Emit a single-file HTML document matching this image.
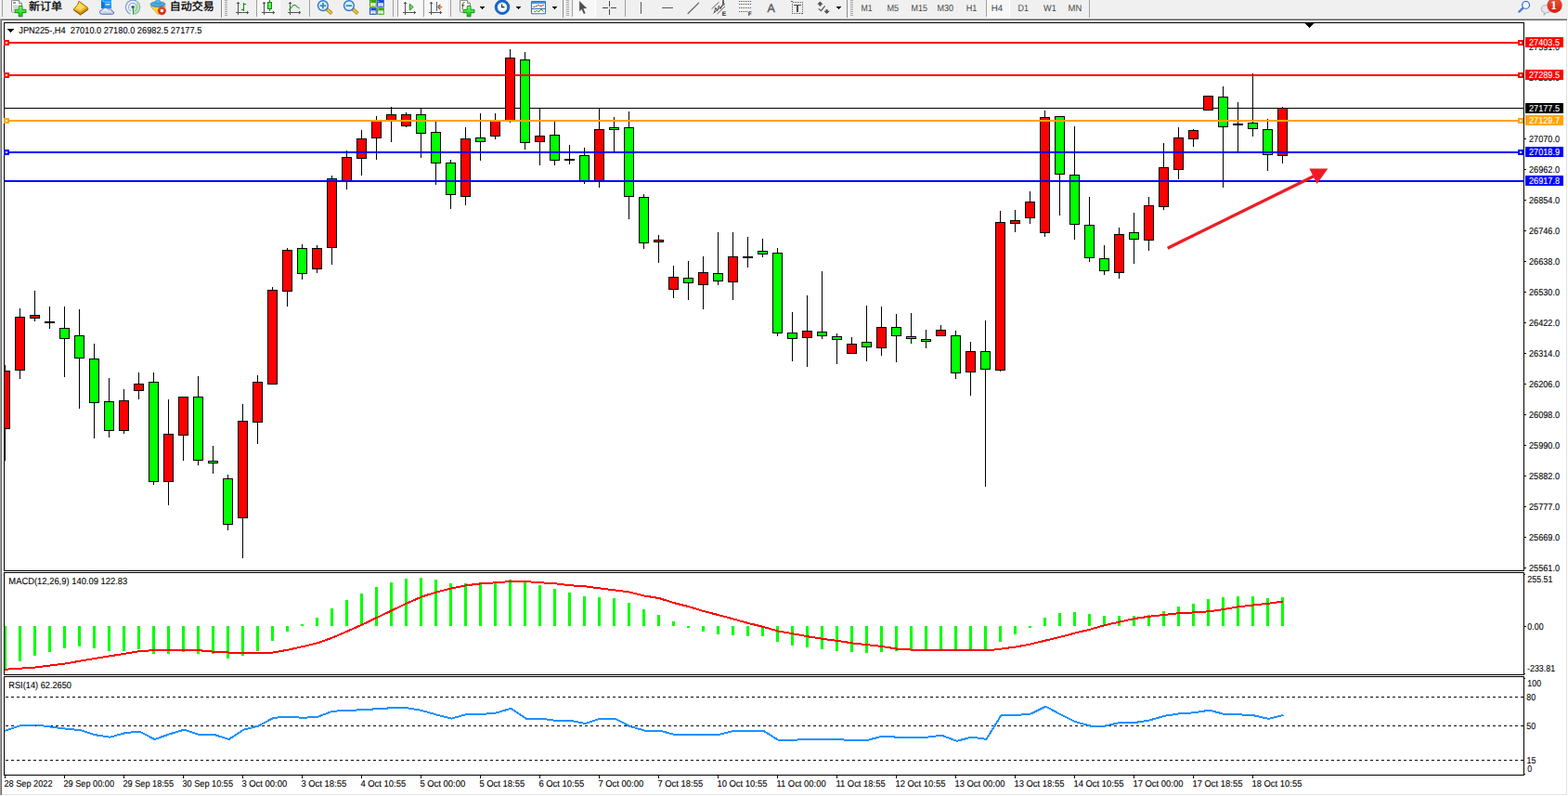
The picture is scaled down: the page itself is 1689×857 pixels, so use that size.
<!DOCTYPE html>
<html><head><meta charset="utf-8"><title>JPN225-,H4</title>
<style>html,body{margin:0;padding:0;background:#fff;overflow:hidden}body{width:1689px;height:857px;position:relative}svg{display:block;position:absolute;left:0;top:0}text{font-family:"Liberation Sans",sans-serif;text-rendering:geometricPrecision}</style>
</head><body>
<svg width="1689" height="857" viewBox="0 0 1689 857">
<g shape-rendering="crispEdges">
<rect x="0" y="0" width="1689" height="857" fill="#fff" />
<rect x="0" y="0" width="1689" height="19" fill="#f0f0f0" />
<rect x="0" y="19" width="1689" height="1" fill="#f5f5f5" />
<rect x="0" y="20" width="1688" height="1" fill="#a0a0a0" />
<rect x="0" y="21" width="1688" height="1" fill="#696969" />
<rect x="0" y="20" width="1" height="836" fill="#a0a0a0" />
<rect x="1" y="21" width="1" height="835" fill="#696969" />
<rect x="1687" y="22" width="1" height="834" fill="#e3e3e3" />
<rect x="2" y="855" width="1686" height="1" fill="#e3e3e3" />
<rect x="4" y="24" width="1638" height="1" fill="#000" />
<rect x="4" y="24" width="1" height="591" fill="#000" />
<rect x="1641" y="24" width="1" height="591" fill="#000" />
<rect x="4" y="614" width="1638" height="1" fill="#000" />
<rect x="4" y="616" width="1638" height="1" fill="#000" />
<rect x="4" y="616" width="1" height="111" fill="#000" />
<rect x="1641" y="616" width="1" height="111" fill="#000" />
<rect x="4" y="726" width="1638" height="1" fill="#000" />
<rect x="4" y="728" width="1638" height="1" fill="#000" />
<rect x="4" y="728" width="1" height="107" fill="#000" />
<rect x="1641" y="728" width="1" height="107" fill="#000" />
<rect x="4" y="834" width="1638" height="1" fill="#000" />
<rect x="5" y="116" width="1636" height="1" fill="#000" />
<rect x="5" y="393" width="1" height="103" fill="#000" />
<rect x="5" y="399" width="6" height="63" fill="#000" />
<rect x="5" y="400" width="5" height="61" fill="#ff0000" />
<rect x="21" y="332" width="1" height="76" fill="#000" />
<rect x="16" y="341" width="11" height="58" fill="#000" />
<rect x="17" y="342" width="9" height="56" fill="#ff0000" />
<rect x="37" y="313" width="1" height="33" fill="#000" />
<rect x="32" y="339" width="11" height="4" fill="#000" />
<rect x="33" y="340" width="9" height="2" fill="#ff0000" />
<rect x="53" y="330" width="1" height="24" fill="#000" />
<rect x="48" y="346" width="11" height="2" fill="#000" />
<rect x="69" y="330" width="1" height="76" fill="#000" />
<rect x="64" y="353" width="11" height="12" fill="#000" />
<rect x="65" y="354" width="9" height="10" fill="#00ff00" />
<rect x="85" y="333" width="1" height="107" fill="#000" />
<rect x="80" y="361" width="11" height="25" fill="#000" />
<rect x="81" y="362" width="9" height="23" fill="#00ff00" />
<rect x="101" y="370" width="1" height="102" fill="#000" />
<rect x="96" y="386" width="11" height="48" fill="#000" />
<rect x="97" y="387" width="9" height="46" fill="#00ff00" />
<rect x="117" y="407" width="1" height="64" fill="#000" />
<rect x="112" y="432" width="11" height="32" fill="#000" />
<rect x="113" y="433" width="9" height="30" fill="#00ff00" />
<rect x="133" y="419" width="1" height="48" fill="#000" />
<rect x="128" y="431" width="11" height="33" fill="#000" />
<rect x="129" y="432" width="9" height="31" fill="#ff0000" />
<rect x="149" y="401" width="1" height="29" fill="#000" />
<rect x="144" y="413" width="11" height="8" fill="#000" />
<rect x="145" y="414" width="9" height="6" fill="#ff0000" />
<rect x="165" y="401" width="1" height="121" fill="#000" />
<rect x="160" y="411" width="11" height="108" fill="#000" />
<rect x="161" y="412" width="9" height="106" fill="#00ff00" />
<rect x="181" y="430" width="1" height="114" fill="#000" />
<rect x="176" y="467" width="11" height="52" fill="#000" />
<rect x="177" y="468" width="9" height="50" fill="#ff0000" />
<rect x="197" y="427" width="1" height="69" fill="#000" />
<rect x="192" y="427" width="11" height="42" fill="#000" />
<rect x="193" y="428" width="9" height="40" fill="#ff0000" />
<rect x="213" y="405" width="1" height="96" fill="#000" />
<rect x="208" y="427" width="11" height="69" fill="#000" />
<rect x="209" y="428" width="9" height="67" fill="#00ff00" />
<rect x="229" y="480" width="1" height="30" fill="#000" />
<rect x="224" y="496" width="11" height="3" fill="#000" />
<rect x="225" y="497" width="9" height="1" fill="#00ff00" />
<rect x="245" y="511" width="1" height="60" fill="#000" />
<rect x="240" y="515" width="11" height="50" fill="#000" />
<rect x="241" y="516" width="9" height="48" fill="#00ff00" />
<rect x="261" y="435" width="1" height="166" fill="#000" />
<rect x="256" y="453" width="11" height="105" fill="#000" />
<rect x="257" y="454" width="9" height="103" fill="#ff0000" />
<rect x="277" y="404" width="1" height="74" fill="#000" />
<rect x="272" y="411" width="11" height="44" fill="#000" />
<rect x="273" y="412" width="9" height="42" fill="#ff0000" />
<rect x="293" y="309" width="1" height="105" fill="#000" />
<rect x="288" y="312" width="11" height="102" fill="#000" />
<rect x="289" y="313" width="9" height="100" fill="#ff0000" />
<rect x="309" y="267" width="1" height="63" fill="#000" />
<rect x="304" y="269" width="11" height="45" fill="#000" />
<rect x="305" y="270" width="9" height="43" fill="#ff0000" />
<rect x="325" y="263" width="1" height="38" fill="#000" />
<rect x="320" y="267" width="11" height="28" fill="#000" />
<rect x="321" y="268" width="9" height="26" fill="#00ff00" />
<rect x="341" y="264" width="1" height="30" fill="#000" />
<rect x="336" y="267" width="11" height="23" fill="#000" />
<rect x="337" y="268" width="9" height="21" fill="#ff0000" />
<rect x="357" y="189" width="1" height="96" fill="#000" />
<rect x="352" y="192" width="11" height="75" fill="#000" />
<rect x="353" y="193" width="9" height="73" fill="#ff0000" />
<rect x="373" y="162" width="1" height="42" fill="#000" />
<rect x="368" y="169" width="11" height="26" fill="#000" />
<rect x="369" y="170" width="9" height="24" fill="#ff0000" />
<rect x="389" y="140" width="1" height="49" fill="#000" />
<rect x="384" y="149" width="11" height="22" fill="#000" />
<rect x="385" y="150" width="9" height="20" fill="#ff0000" />
<rect x="405" y="125" width="1" height="47" fill="#000" />
<rect x="400" y="129" width="11" height="20" fill="#000" />
<rect x="401" y="130" width="9" height="18" fill="#ff0000" />
<rect x="421" y="115" width="1" height="38" fill="#000" />
<rect x="416" y="123" width="11" height="7" fill="#000" />
<rect x="417" y="124" width="9" height="5" fill="#ff0000" />
<rect x="437" y="121" width="1" height="16" fill="#000" />
<rect x="432" y="123" width="11" height="13" fill="#000" />
<rect x="433" y="124" width="9" height="11" fill="#ff0000" />
<rect x="453" y="116" width="1" height="54" fill="#000" />
<rect x="448" y="123" width="11" height="21" fill="#000" />
<rect x="449" y="124" width="9" height="19" fill="#00ff00" />
<rect x="469" y="131" width="1" height="68" fill="#000" />
<rect x="464" y="142" width="11" height="34" fill="#000" />
<rect x="465" y="143" width="9" height="32" fill="#00ff00" />
<rect x="485" y="172" width="1" height="53" fill="#000" />
<rect x="480" y="175" width="11" height="35" fill="#000" />
<rect x="481" y="176" width="9" height="33" fill="#00ff00" />
<rect x="501" y="137" width="1" height="84" fill="#000" />
<rect x="496" y="149" width="11" height="63" fill="#000" />
<rect x="497" y="150" width="9" height="61" fill="#ff0000" />
<rect x="517" y="122" width="1" height="51" fill="#000" />
<rect x="512" y="148" width="11" height="5" fill="#000" />
<rect x="513" y="149" width="9" height="3" fill="#00ff00" />
<rect x="533" y="122" width="1" height="28" fill="#000" />
<rect x="528" y="129" width="11" height="18" fill="#000" />
<rect x="529" y="130" width="9" height="16" fill="#ff0000" />
<rect x="549" y="53" width="1" height="79" fill="#000" />
<rect x="544" y="62" width="11" height="68" fill="#000" />
<rect x="545" y="63" width="9" height="66" fill="#ff0000" />
<rect x="565" y="56" width="1" height="105" fill="#000" />
<rect x="560" y="64" width="11" height="90" fill="#000" />
<rect x="561" y="65" width="9" height="88" fill="#00ff00" />
<rect x="581" y="116" width="1" height="62" fill="#000" />
<rect x="576" y="146" width="11" height="7" fill="#000" />
<rect x="577" y="147" width="9" height="5" fill="#ff0000" />
<rect x="597" y="131" width="1" height="47" fill="#000" />
<rect x="592" y="145" width="11" height="28" fill="#000" />
<rect x="593" y="146" width="9" height="26" fill="#00ff00" />
<rect x="613" y="156" width="1" height="21" fill="#000" />
<rect x="608" y="171" width="11" height="2" fill="#000" />
<rect x="629" y="159" width="1" height="39" fill="#000" />
<rect x="624" y="167" width="11" height="29" fill="#000" />
<rect x="625" y="168" width="9" height="27" fill="#00ff00" />
<rect x="645" y="116" width="1" height="86" fill="#000" />
<rect x="640" y="139" width="11" height="57" fill="#000" />
<rect x="641" y="140" width="9" height="55" fill="#ff0000" />
<rect x="661" y="126" width="1" height="37" fill="#000" />
<rect x="656" y="137" width="11" height="3" fill="#000" />
<rect x="657" y="138" width="9" height="1" fill="#00ff00" />
<rect x="677" y="120" width="1" height="116" fill="#000" />
<rect x="672" y="137" width="11" height="75" fill="#000" />
<rect x="673" y="138" width="9" height="73" fill="#00ff00" />
<rect x="693" y="209" width="1" height="59" fill="#000" />
<rect x="688" y="212" width="11" height="50" fill="#000" />
<rect x="689" y="213" width="9" height="48" fill="#00ff00" />
<rect x="709" y="253" width="1" height="30" fill="#000" />
<rect x="704" y="258" width="11" height="3" fill="#000" />
<rect x="705" y="259" width="9" height="1" fill="#ff0000" />
<rect x="725" y="286" width="1" height="35" fill="#000" />
<rect x="720" y="298" width="11" height="14" fill="#000" />
<rect x="721" y="299" width="9" height="12" fill="#ff0000" />
<rect x="741" y="281" width="1" height="42" fill="#000" />
<rect x="736" y="299" width="11" height="6" fill="#000" />
<rect x="737" y="300" width="9" height="4" fill="#00ff00" />
<rect x="757" y="276" width="1" height="57" fill="#000" />
<rect x="752" y="293" width="11" height="14" fill="#000" />
<rect x="753" y="294" width="9" height="12" fill="#ff0000" />
<rect x="773" y="250" width="1" height="57" fill="#000" />
<rect x="768" y="294" width="11" height="9" fill="#000" />
<rect x="769" y="295" width="9" height="7" fill="#00ff00" />
<rect x="789" y="250" width="1" height="73" fill="#000" />
<rect x="784" y="276" width="11" height="28" fill="#000" />
<rect x="785" y="277" width="9" height="26" fill="#ff0000" />
<rect x="805" y="255" width="1" height="33" fill="#000" />
<rect x="800" y="276" width="11" height="2" fill="#000" />
<rect x="821" y="257" width="1" height="20" fill="#000" />
<rect x="816" y="270" width="11" height="4" fill="#000" />
<rect x="817" y="271" width="9" height="2" fill="#00ff00" />
<rect x="837" y="267" width="1" height="95" fill="#000" />
<rect x="832" y="272" width="11" height="87" fill="#000" />
<rect x="833" y="273" width="9" height="85" fill="#00ff00" />
<rect x="853" y="336" width="1" height="53" fill="#000" />
<rect x="848" y="358" width="11" height="7" fill="#000" />
<rect x="849" y="359" width="9" height="5" fill="#00ff00" />
<rect x="869" y="318" width="1" height="77" fill="#000" />
<rect x="864" y="356" width="11" height="8" fill="#000" />
<rect x="865" y="357" width="9" height="6" fill="#ff0000" />
<rect x="885" y="292" width="1" height="73" fill="#000" />
<rect x="880" y="357" width="11" height="5" fill="#000" />
<rect x="881" y="358" width="9" height="3" fill="#00ff00" />
<rect x="901" y="359" width="1" height="33" fill="#000" />
<rect x="896" y="362" width="11" height="4" fill="#000" />
<rect x="897" y="363" width="9" height="2" fill="#00ff00" />
<rect x="917" y="363" width="1" height="18" fill="#000" />
<rect x="912" y="370" width="11" height="11" fill="#000" />
<rect x="913" y="371" width="9" height="9" fill="#ff0000" />
<rect x="933" y="329" width="1" height="60" fill="#000" />
<rect x="928" y="368" width="11" height="6" fill="#000" />
<rect x="929" y="369" width="9" height="4" fill="#00ff00" />
<rect x="949" y="330" width="1" height="53" fill="#000" />
<rect x="944" y="352" width="11" height="23" fill="#000" />
<rect x="945" y="353" width="9" height="21" fill="#ff0000" />
<rect x="965" y="338" width="1" height="52" fill="#000" />
<rect x="960" y="352" width="11" height="10" fill="#000" />
<rect x="961" y="353" width="9" height="8" fill="#00ff00" />
<rect x="981" y="337" width="1" height="33" fill="#000" />
<rect x="976" y="362" width="11" height="3" fill="#000" />
<rect x="977" y="363" width="9" height="1" fill="#00ff00" />
<rect x="997" y="355" width="1" height="20" fill="#000" />
<rect x="992" y="365" width="11" height="3" fill="#000" />
<rect x="993" y="366" width="9" height="1" fill="#00ff00" />
<rect x="1013" y="350" width="1" height="12" fill="#000" />
<rect x="1008" y="355" width="11" height="7" fill="#000" />
<rect x="1009" y="356" width="9" height="5" fill="#ff0000" />
<rect x="1029" y="356" width="1" height="52" fill="#000" />
<rect x="1024" y="361" width="11" height="41" fill="#000" />
<rect x="1025" y="362" width="9" height="39" fill="#00ff00" />
<rect x="1045" y="368" width="1" height="58" fill="#000" />
<rect x="1040" y="378" width="11" height="23" fill="#000" />
<rect x="1041" y="379" width="9" height="21" fill="#ff0000" />
<rect x="1061" y="345" width="1" height="179" fill="#000" />
<rect x="1056" y="378" width="11" height="20" fill="#000" />
<rect x="1057" y="379" width="9" height="18" fill="#00ff00" />
<rect x="1077" y="227" width="1" height="173" fill="#000" />
<rect x="1072" y="239" width="11" height="160" fill="#000" />
<rect x="1073" y="240" width="9" height="158" fill="#ff0000" />
<rect x="1093" y="226" width="1" height="24" fill="#000" />
<rect x="1088" y="237" width="11" height="4" fill="#000" />
<rect x="1089" y="238" width="9" height="2" fill="#ff0000" />
<rect x="1109" y="206" width="1" height="35" fill="#000" />
<rect x="1104" y="217" width="11" height="18" fill="#000" />
<rect x="1105" y="218" width="9" height="16" fill="#ff0000" />
<rect x="1125" y="119" width="1" height="136" fill="#000" />
<rect x="1120" y="126" width="11" height="125" fill="#000" />
<rect x="1121" y="127" width="9" height="123" fill="#ff0000" />
<rect x="1141" y="125" width="1" height="107" fill="#000" />
<rect x="1136" y="125" width="11" height="63" fill="#000" />
<rect x="1137" y="126" width="9" height="61" fill="#00ff00" />
<rect x="1157" y="136" width="1" height="122" fill="#000" />
<rect x="1152" y="188" width="11" height="54" fill="#000" />
<rect x="1153" y="189" width="9" height="52" fill="#00ff00" />
<rect x="1173" y="212" width="1" height="70" fill="#000" />
<rect x="1168" y="242" width="11" height="36" fill="#000" />
<rect x="1169" y="243" width="9" height="34" fill="#00ff00" />
<rect x="1189" y="264" width="1" height="32" fill="#000" />
<rect x="1184" y="278" width="11" height="14" fill="#000" />
<rect x="1185" y="279" width="9" height="12" fill="#00ff00" />
<rect x="1205" y="245" width="1" height="55" fill="#000" />
<rect x="1200" y="252" width="11" height="42" fill="#000" />
<rect x="1201" y="253" width="9" height="40" fill="#ff0000" />
<rect x="1221" y="229" width="1" height="55" fill="#000" />
<rect x="1216" y="250" width="11" height="8" fill="#000" />
<rect x="1217" y="251" width="9" height="6" fill="#00ff00" />
<rect x="1237" y="212" width="1" height="58" fill="#000" />
<rect x="1232" y="221" width="11" height="38" fill="#000" />
<rect x="1233" y="222" width="9" height="36" fill="#ff0000" />
<rect x="1253" y="154" width="1" height="72" fill="#000" />
<rect x="1248" y="180" width="11" height="43" fill="#000" />
<rect x="1249" y="181" width="9" height="41" fill="#ff0000" />
<rect x="1269" y="137" width="1" height="56" fill="#000" />
<rect x="1264" y="148" width="11" height="35" fill="#000" />
<rect x="1265" y="149" width="9" height="33" fill="#ff0000" />
<rect x="1285" y="139" width="1" height="19" fill="#000" />
<rect x="1280" y="140" width="11" height="10" fill="#000" />
<rect x="1281" y="141" width="9" height="8" fill="#ff0000" />
<rect x="1301" y="103" width="1" height="16" fill="#000" />
<rect x="1296" y="103" width="11" height="16" fill="#000" />
<rect x="1297" y="104" width="9" height="14" fill="#ff0000" />
<rect x="1317" y="93" width="1" height="109" fill="#000" />
<rect x="1312" y="104" width="11" height="33" fill="#000" />
<rect x="1313" y="105" width="9" height="31" fill="#00ff00" />
<rect x="1333" y="110" width="1" height="54" fill="#000" />
<rect x="1328" y="133" width="11" height="2" fill="#000" />
<rect x="1349" y="79" width="1" height="68" fill="#000" />
<rect x="1344" y="132" width="11" height="7" fill="#000" />
<rect x="1345" y="133" width="9" height="5" fill="#00ff00" />
<rect x="1365" y="128" width="1" height="56" fill="#000" />
<rect x="1360" y="139" width="11" height="28" fill="#000" />
<rect x="1361" y="140" width="9" height="26" fill="#00ff00" />
<rect x="1381" y="115" width="1" height="61" fill="#000" />
<rect x="1376" y="116" width="11" height="52" fill="#000" />
<rect x="1377" y="117" width="9" height="50" fill="#ff0000" />
<rect x="5" y="45" width="1636" height="2" fill="#ff0000" />
<rect x="5" y="80" width="1636" height="2" fill="#ff0000" />
<rect x="5" y="129" width="1636" height="2" fill="#ffa500" />
<rect x="5" y="163" width="1636" height="2" fill="#0000ff" />
<rect x="5" y="194" width="1636" height="2" fill="#0000ff" />
<rect x="4" y="43" width="6" height="6" fill="#ff0000" />
<rect x="6" y="45" width="2" height="2" fill="#fff" />
<rect x="1635" y="43" width="6" height="6" fill="#ff0000" />
<rect x="1637" y="45" width="2" height="2" fill="#fff" />
<rect x="4" y="78" width="6" height="6" fill="#ff0000" />
<rect x="6" y="80" width="2" height="2" fill="#fff" />
<rect x="1635" y="78" width="6" height="6" fill="#ff0000" />
<rect x="1637" y="80" width="2" height="2" fill="#fff" />
<rect x="4" y="127" width="6" height="6" fill="#ffa500" />
<rect x="6" y="129" width="2" height="2" fill="#fff" />
<rect x="1635" y="127" width="6" height="6" fill="#ffa500" />
<rect x="1637" y="129" width="2" height="2" fill="#fff" />
<rect x="4" y="161" width="6" height="6" fill="#0000ff" />
<rect x="6" y="163" width="2" height="2" fill="#fff" />
<rect x="1635" y="161" width="6" height="6" fill="#0000ff" />
<rect x="1637" y="163" width="2" height="2" fill="#fff" />
<rect x="5" y="674" width="2" height="47" fill="#00ff00" />
<rect x="20" y="674" width="3" height="38" fill="#00ff00" />
<rect x="36" y="674" width="3" height="32" fill="#00ff00" />
<rect x="52" y="674" width="3" height="28" fill="#00ff00" />
<rect x="68" y="674" width="3" height="24" fill="#00ff00" />
<rect x="84" y="674" width="3" height="22" fill="#00ff00" />
<rect x="100" y="674" width="3" height="24" fill="#00ff00" />
<rect x="116" y="674" width="3" height="27" fill="#00ff00" />
<rect x="132" y="674" width="3" height="27" fill="#00ff00" />
<rect x="148" y="674" width="3" height="25" fill="#00ff00" />
<rect x="164" y="674" width="3" height="30" fill="#00ff00" />
<rect x="180" y="674" width="3" height="30" fill="#00ff00" />
<rect x="196" y="674" width="3" height="28" fill="#00ff00" />
<rect x="212" y="674" width="3" height="30" fill="#00ff00" />
<rect x="228" y="674" width="3" height="30" fill="#00ff00" />
<rect x="244" y="674" width="3" height="35" fill="#00ff00" />
<rect x="260" y="674" width="3" height="32" fill="#00ff00" />
<rect x="276" y="674" width="3" height="27" fill="#00ff00" />
<rect x="292" y="674" width="3" height="16" fill="#00ff00" />
<rect x="308" y="674" width="3" height="6" fill="#00ff00" />
<rect x="324" y="672" width="3" height="2" fill="#00ff00" />
<rect x="340" y="665" width="3" height="9" fill="#00ff00" />
<rect x="356" y="655" width="3" height="19" fill="#00ff00" />
<rect x="372" y="646" width="3" height="28" fill="#00ff00" />
<rect x="388" y="639" width="3" height="35" fill="#00ff00" />
<rect x="404" y="632" width="3" height="42" fill="#00ff00" />
<rect x="420" y="627" width="3" height="47" fill="#00ff00" />
<rect x="436" y="623" width="3" height="51" fill="#00ff00" />
<rect x="452" y="622" width="3" height="52" fill="#00ff00" />
<rect x="468" y="624" width="3" height="50" fill="#00ff00" />
<rect x="484" y="628" width="3" height="46" fill="#00ff00" />
<rect x="500" y="628" width="3" height="46" fill="#00ff00" />
<rect x="516" y="628" width="3" height="46" fill="#00ff00" />
<rect x="532" y="627" width="3" height="47" fill="#00ff00" />
<rect x="548" y="624" width="3" height="50" fill="#00ff00" />
<rect x="564" y="627" width="3" height="47" fill="#00ff00" />
<rect x="580" y="630" width="3" height="44" fill="#00ff00" />
<rect x="596" y="634" width="3" height="40" fill="#00ff00" />
<rect x="612" y="638" width="3" height="36" fill="#00ff00" />
<rect x="628" y="642" width="3" height="32" fill="#00ff00" />
<rect x="644" y="643" width="3" height="31" fill="#00ff00" />
<rect x="660" y="644" width="3" height="30" fill="#00ff00" />
<rect x="676" y="649" width="3" height="25" fill="#00ff00" />
<rect x="692" y="656" width="3" height="18" fill="#00ff00" />
<rect x="708" y="662" width="3" height="12" fill="#00ff00" />
<rect x="724" y="669" width="3" height="5" fill="#00ff00" />
<rect x="740" y="674" width="3" height="2" fill="#00ff00" />
<rect x="756" y="674" width="3" height="6" fill="#00ff00" />
<rect x="772" y="674" width="3" height="9" fill="#00ff00" />
<rect x="788" y="674" width="3" height="10" fill="#00ff00" />
<rect x="804" y="674" width="3" height="11" fill="#00ff00" />
<rect x="820" y="674" width="3" height="11" fill="#00ff00" />
<rect x="836" y="674" width="3" height="17" fill="#00ff00" />
<rect x="852" y="674" width="3" height="21" fill="#00ff00" />
<rect x="868" y="674" width="3" height="23" fill="#00ff00" />
<rect x="884" y="674" width="3" height="25" fill="#00ff00" />
<rect x="900" y="674" width="3" height="27" fill="#00ff00" />
<rect x="916" y="674" width="3" height="28" fill="#00ff00" />
<rect x="932" y="674" width="3" height="29" fill="#00ff00" />
<rect x="948" y="674" width="3" height="28" fill="#00ff00" />
<rect x="964" y="674" width="3" height="27" fill="#00ff00" />
<rect x="980" y="674" width="3" height="26" fill="#00ff00" />
<rect x="996" y="674" width="3" height="26" fill="#00ff00" />
<rect x="1012" y="674" width="3" height="26" fill="#00ff00" />
<rect x="1028" y="674" width="3" height="26" fill="#00ff00" />
<rect x="1044" y="674" width="3" height="26" fill="#00ff00" />
<rect x="1060" y="674" width="3" height="26" fill="#00ff00" />
<rect x="1076" y="674" width="3" height="17" fill="#00ff00" />
<rect x="1092" y="674" width="3" height="9" fill="#00ff00" />
<rect x="1108" y="674" width="3" height="2" fill="#00ff00" />
<rect x="1124" y="665" width="3" height="9" fill="#00ff00" />
<rect x="1140" y="660" width="3" height="14" fill="#00ff00" />
<rect x="1156" y="659" width="3" height="15" fill="#00ff00" />
<rect x="1172" y="661" width="3" height="13" fill="#00ff00" />
<rect x="1188" y="663" width="3" height="11" fill="#00ff00" />
<rect x="1204" y="663" width="3" height="11" fill="#00ff00" />
<rect x="1220" y="663" width="3" height="11" fill="#00ff00" />
<rect x="1236" y="662" width="3" height="12" fill="#00ff00" />
<rect x="1252" y="658" width="3" height="16" fill="#00ff00" />
<rect x="1268" y="653" width="3" height="21" fill="#00ff00" />
<rect x="1284" y="650" width="3" height="24" fill="#00ff00" />
<rect x="1300" y="645" width="3" height="29" fill="#00ff00" />
<rect x="1316" y="643" width="3" height="31" fill="#00ff00" />
<rect x="1332" y="642" width="3" height="32" fill="#00ff00" />
<rect x="1348" y="642" width="3" height="32" fill="#00ff00" />
<rect x="1364" y="644" width="3" height="30" fill="#00ff00" />
<rect x="1380" y="643" width="3" height="31" fill="#00ff00" />
<path d="M6 750.5H1641" stroke="#000" stroke-width="1" stroke-dasharray="3 3" fill="none"/>
<path d="M6 781.5H1641" stroke="#000" stroke-width="1" stroke-dasharray="3 3" fill="none"/>
<path d="M6 818.5H1641" stroke="#000" stroke-width="1" stroke-dasharray="3 3" fill="none"/>
<rect x="1642" y="149" width="2" height="1" fill="#000" />
<rect x="1642" y="182" width="2" height="1" fill="#000" />
<rect x="1642" y="215" width="2" height="1" fill="#000" />
<rect x="1642" y="248" width="2" height="1" fill="#000" />
<rect x="1642" y="281" width="2" height="1" fill="#000" />
<rect x="1642" y="314" width="2" height="1" fill="#000" />
<rect x="1642" y="347" width="2" height="1" fill="#000" />
<rect x="1642" y="380" width="2" height="1" fill="#000" />
<rect x="1642" y="413" width="2" height="1" fill="#000" />
<rect x="1642" y="446" width="2" height="1" fill="#000" />
<rect x="1642" y="479" width="2" height="1" fill="#000" />
<rect x="1642" y="512" width="2" height="1" fill="#000" />
<rect x="1642" y="545" width="2" height="1" fill="#000" />
<rect x="1642" y="578" width="2" height="1" fill="#000" />
<rect x="1642" y="611" width="2" height="1" fill="#000" />
<rect x="1642" y="674" width="2" height="1" fill="#000" />
<rect x="5" y="835" width="1" height="3" fill="#000" />
<rect x="69" y="835" width="1" height="3" fill="#000" />
<rect x="133" y="835" width="1" height="3" fill="#000" />
<rect x="197" y="835" width="1" height="3" fill="#000" />
<rect x="261" y="835" width="1" height="3" fill="#000" />
<rect x="325" y="835" width="1" height="3" fill="#000" />
<rect x="389" y="835" width="1" height="3" fill="#000" />
<rect x="453" y="835" width="1" height="3" fill="#000" />
<rect x="517" y="835" width="1" height="3" fill="#000" />
<rect x="581" y="835" width="1" height="3" fill="#000" />
<rect x="645" y="835" width="1" height="3" fill="#000" />
<rect x="709" y="835" width="1" height="3" fill="#000" />
<rect x="773" y="835" width="1" height="3" fill="#000" />
<rect x="837" y="835" width="1" height="3" fill="#000" />
<rect x="901" y="835" width="1" height="3" fill="#000" />
<rect x="965" y="835" width="1" height="3" fill="#000" />
<rect x="1029" y="835" width="1" height="3" fill="#000" />
<rect x="1093" y="835" width="1" height="3" fill="#000" />
<rect x="1157" y="835" width="1" height="3" fill="#000" />
<rect x="1221" y="835" width="1" height="3" fill="#000" />
<rect x="1285" y="835" width="1" height="3" fill="#000" />
<rect x="1349" y="835" width="1" height="3" fill="#000" />
</g>
<polyline points="5,720.8 38.2,718.5 70.2,714.5 102.2,708.9 134.2,703.8 151.2,701.0 166.2,700.2 214.2,700.2 230.2,701.7 246.2,702.5 294.2,702.5 310.2,699.7 326.2,696.1 342.2,692.3 358.2,686.5 374.2,679.6 390.2,672.5 406.2,664.8 422.2,657.2 438.2,649.5 454.2,642.5 470.2,637.5 486.2,633.4 502.2,630.3 518.2,628.3 534.2,627.3 550.2,626.0 566.2,626.0 582.2,627.3 598.2,628.3 614.2,630.3 630.2,631.3 646.2,633.4 662.2,635.4 678.2,637.5 694.2,641.5 710.2,644.1 726.2,649.2 742.2,653.2 758.2,658.1 774.2,662.2 790.2,666.5 806.2,671.0 822.2,674.9 838.2,679.5 854.2,682.3 870.2,685.3 886.2,687.9 902.2,689.9 918.2,692.4 934.2,694.2 950.2,696.0 966.2,698.6 982.2,699.6 1062.2,699.6 1070.2,699.6 1078.2,698.6 1094.2,696.5 1110.2,693.5 1126.2,689.6 1142.2,685.8 1158.2,681.5 1174.2,677.7 1190.2,673.1 1206.2,669.5 1222.2,666.0 1238.2,663.7 1254.2,661.9 1270.2,660.2 1286.2,659.4 1302.2,658.3 1318.2,656.0 1334.2,653.2 1350.2,651.5 1366.2,649.7 1382.2,647.6" fill="none" stroke="#ff0000" stroke-width="2" shape-rendering="crispEdges"/>
<polyline points="5,786.9 22.5,781.0 38.5,780.5 54.5,782.5 70.5,784.6 86.5,786.1 102.5,791.2 118.5,793.7 134.5,789.2 150.5,787.6 166.5,796.0 182.5,790.4 198.5,785.6 214.5,790.9 230.5,790.9 246.5,796.0 262.5,785.6 278.5,781.5 294.5,772.9 310.5,771.6 326.5,772.9 342.5,771.6 358.5,765.7 374.5,765.0 390.5,764.2 406.5,763.2 422.5,762.2 438.5,762.2 454.5,765.0 470.5,769.6 486.5,773.6 502.5,769.0 518.5,769.0 534.5,767.5 550.5,762.7 566.5,773.6 582.5,773.6 598.5,775.9 614.5,775.9 630.5,779.0 646.5,773.6 662.5,773.6 678.5,782.0 694.5,786.6 710.5,786.6 726.5,790.9 742.5,790.9 758.5,790.9 774.5,790.9 790.5,786.9 806.5,786.9 822.5,786.9 838.5,796.8 854.5,796.8 870.5,795.8 886.5,795.8 902.5,796.3 918.5,796.8 934.5,796.8 950.5,792.7 966.5,793.7 982.5,793.7 998.5,793.7 1014.5,791.7 1030.5,797.8 1046.5,793.7 1062.5,795.8 1078.5,770.0 1094.5,770.0 1110.5,768.5 1126.5,760.6 1142.5,769.3 1158.5,777.2 1174.5,781.5 1190.5,781.5 1206.5,778.0 1222.5,778.0 1238.5,775.4 1254.5,770.8 1270.5,768.3 1286.5,767.3 1302.5,764.7 1318.5,768.8 1334.5,769.3 1350.5,770.3 1366.5,773.9 1382.5,769.8" fill="none" stroke="#1e90ff" stroke-width="2" stroke-linejoin="bevel" shape-rendering="crispEdges"/>
<line x1="1257.7" y1="267.2" x2="1416.5" y2="188.95" stroke="#ed1c24" stroke-width="3.2"/>
<polygon points="1410.4,181.4 1430.4,181.4 1418.6,198" fill="#ed1c24"/>
<g shape-rendering="crispEdges">
<rect x="1406" y="25" width="9" height="1" fill="#000" />
<rect x="1407" y="26" width="7" height="1" fill="#000" />
<rect x="1408" y="27" width="5" height="1" fill="#000" />
<rect x="1409" y="28" width="3" height="1" fill="#000" />
<rect x="1410" y="29" width="1" height="1" fill="#000" />
</g>
<text x="1647" y="153.0" fill="#000" stroke="#000" stroke-width="0.1" font-size="10" text-anchor="start" textLength="33" lengthAdjust="spacingAndGlyphs" >27070.0</text>
<text x="1647" y="186.0" fill="#000" stroke="#000" stroke-width="0.1" font-size="10" text-anchor="start" textLength="33" lengthAdjust="spacingAndGlyphs" >26962.0</text>
<text x="1647" y="219.0" fill="#000" stroke="#000" stroke-width="0.1" font-size="10" text-anchor="start" textLength="33" lengthAdjust="spacingAndGlyphs" >26854.0</text>
<text x="1647" y="252.0" fill="#000" stroke="#000" stroke-width="0.1" font-size="10" text-anchor="start" textLength="33" lengthAdjust="spacingAndGlyphs" >26746.0</text>
<text x="1647" y="285.0" fill="#000" stroke="#000" stroke-width="0.1" font-size="10" text-anchor="start" textLength="33" lengthAdjust="spacingAndGlyphs" >26638.0</text>
<text x="1647" y="318.0" fill="#000" stroke="#000" stroke-width="0.1" font-size="10" text-anchor="start" textLength="33" lengthAdjust="spacingAndGlyphs" >26530.0</text>
<text x="1647" y="351.0" fill="#000" stroke="#000" stroke-width="0.1" font-size="10" text-anchor="start" textLength="33" lengthAdjust="spacingAndGlyphs" >26422.0</text>
<text x="1647" y="384.0" fill="#000" stroke="#000" stroke-width="0.1" font-size="10" text-anchor="start" textLength="33" lengthAdjust="spacingAndGlyphs" >26314.0</text>
<text x="1647" y="417.0" fill="#000" stroke="#000" stroke-width="0.1" font-size="10" text-anchor="start" textLength="33" lengthAdjust="spacingAndGlyphs" >26206.0</text>
<text x="1647" y="450.0" fill="#000" stroke="#000" stroke-width="0.1" font-size="10" text-anchor="start" textLength="33" lengthAdjust="spacingAndGlyphs" >26098.0</text>
<text x="1647" y="483.0" fill="#000" stroke="#000" stroke-width="0.1" font-size="10" text-anchor="start" textLength="33" lengthAdjust="spacingAndGlyphs" >25990.0</text>
<text x="1647" y="516.0" fill="#000" stroke="#000" stroke-width="0.1" font-size="10" text-anchor="start" textLength="33" lengthAdjust="spacingAndGlyphs" >25882.0</text>
<text x="1647" y="549.0" fill="#000" stroke="#000" stroke-width="0.1" font-size="10" text-anchor="start" textLength="33" lengthAdjust="spacingAndGlyphs" >25777.0</text>
<text x="1647" y="582.0" fill="#000" stroke="#000" stroke-width="0.1" font-size="10" text-anchor="start" textLength="33" lengthAdjust="spacingAndGlyphs" >25669.0</text>
<text x="1647" y="615.0" fill="#000" stroke="#000" stroke-width="0.1" font-size="10" text-anchor="start" textLength="33" lengthAdjust="spacingAndGlyphs" >25561.0</text>
<text x="1647" y="54.4" fill="#000" stroke="#000" stroke-width="0.1" font-size="10" text-anchor="start" textLength="33" lengthAdjust="spacingAndGlyphs" >27391.0</text>
<text x="1647" y="87.4" fill="#000" stroke="#000" stroke-width="0.1" font-size="10" text-anchor="start" textLength="33" lengthAdjust="spacingAndGlyphs" >27283.0</text>
<g shape-rendering="crispEdges">
<rect x="1643" y="40" width="41" height="11" fill="#ff0000" />
<rect x="1643" y="75" width="41" height="11" fill="#ff0000" />
<rect x="1643" y="111" width="41" height="11" fill="#000" />
<rect x="1643" y="124" width="41" height="11" fill="#ffa500" />
<rect x="1643" y="158" width="41" height="11" fill="#0000ff" />
<rect x="1643" y="189" width="41" height="11" fill="#0000ff" />
</g>
<text x="1647" y="49" fill="#fff" stroke="#fff" stroke-width="0.1" font-size="10" text-anchor="start" textLength="33" lengthAdjust="spacingAndGlyphs" >27403.5</text>
<text x="1647" y="84" fill="#fff" stroke="#fff" stroke-width="0.1" font-size="10" text-anchor="start" textLength="33" lengthAdjust="spacingAndGlyphs" >27289.5</text>
<text x="1647" y="120" fill="#fff" stroke="#fff" stroke-width="0.1" font-size="10" text-anchor="start" textLength="33" lengthAdjust="spacingAndGlyphs" >27177.5</text>
<text x="1647" y="133" fill="#fff" stroke="#fff" stroke-width="0.1" font-size="10" text-anchor="start" textLength="33" lengthAdjust="spacingAndGlyphs" >27129.7</text>
<text x="1647" y="167" fill="#fff" stroke="#fff" stroke-width="0.1" font-size="10" text-anchor="start" textLength="33" lengthAdjust="spacingAndGlyphs" >27018.9</text>
<text x="1647" y="198" fill="#fff" stroke="#fff" stroke-width="0.1" font-size="10" text-anchor="start" textLength="33" lengthAdjust="spacingAndGlyphs" >26917.8</text>
<text x="1645.3" y="627" fill="#000" stroke="#000" stroke-width="0.1" font-size="10" text-anchor="start" textLength="27.2" lengthAdjust="spacingAndGlyphs" >255.51</text>
<text x="1645.3" y="678" fill="#000" stroke="#000" stroke-width="0.1" font-size="10" text-anchor="start" textLength="17.3" lengthAdjust="spacingAndGlyphs" >0.00</text>
<text x="1645.0" y="723" fill="#000" stroke="#000" stroke-width="0.1" font-size="10" text-anchor="start" textLength="30.2" lengthAdjust="spacingAndGlyphs" >-233.81</text>
<text x="1645.3" y="739" fill="#000" stroke="#000" stroke-width="0.1" font-size="10" text-anchor="start" textLength="14.8" lengthAdjust="spacingAndGlyphs" >100</text>
<text x="1644.2" y="754" fill="#000" stroke="#000" stroke-width="0.1" font-size="10" text-anchor="start" textLength="9.9" lengthAdjust="spacingAndGlyphs" >80</text>
<text x="1644.2" y="785" fill="#000" stroke="#000" stroke-width="0.1" font-size="10" text-anchor="start" textLength="9.9" lengthAdjust="spacingAndGlyphs" >50</text>
<text x="1644.6" y="822" fill="#000" stroke="#000" stroke-width="0.1" font-size="10" text-anchor="start" textLength="9.9" lengthAdjust="spacingAndGlyphs" >15</text>
<text x="1645.3" y="831" fill="#000" stroke="#000" stroke-width="0.1" font-size="10" text-anchor="start" textLength="4.9" lengthAdjust="spacingAndGlyphs" >0</text>
<g shape-rendering="crispEdges">
<rect x="1642" y="618" width="1" height="1" fill="#000" />
<rect x="1642" y="725" width="1" height="1" fill="#000" />
<rect x="1642" y="730" width="1" height="1" fill="#000" />
<rect x="1642" y="833" width="1" height="1" fill="#000" />
</g>
<polygon points="8,31 15,31 11.5,35" fill="#000" shape-rendering="crispEdges"/>
<text x="20.3" y="36" fill="#000" stroke="#000" stroke-width="0.1" font-size="10" text-anchor="start" textLength="197" lengthAdjust="spacingAndGlyphs" xml:space="preserve">JPN225-,H4&#160;&#160;27010.0 27180.0 26982.5 27177.5</text>
<text x="9.3" y="629" fill="#000" stroke="#000" stroke-width="0.1" font-size="10" text-anchor="start" textLength="128" lengthAdjust="spacingAndGlyphs" >MACD(12,26,9) 140.09 122.83</text>
<text x="9.3" y="741" fill="#000" stroke="#000" stroke-width="0.1" font-size="10" text-anchor="start" textLength="67.7" lengthAdjust="spacingAndGlyphs" >RSI(14) 62.2650</text>
<text x="4.4" y="847" fill="#000" stroke="#000" stroke-width="0.1" font-size="10" text-anchor="start" textLength="52.2" lengthAdjust="spacingAndGlyphs" >28 Sep 2022</text>
<text x="68.4" y="847" fill="#000" stroke="#000" stroke-width="0.1" font-size="10" text-anchor="start" textLength="54.7" lengthAdjust="spacingAndGlyphs" >29 Sep 00:00</text>
<text x="132.4" y="847" fill="#000" stroke="#000" stroke-width="0.1" font-size="10" text-anchor="start" textLength="54.7" lengthAdjust="spacingAndGlyphs" >29 Sep 18:55</text>
<text x="196.4" y="847" fill="#000" stroke="#000" stroke-width="0.1" font-size="10" text-anchor="start" textLength="54.7" lengthAdjust="spacingAndGlyphs" >30 Sep 10:55</text>
<text x="260.4" y="847" fill="#000" stroke="#000" stroke-width="0.1" font-size="10" text-anchor="start" textLength="48.8" lengthAdjust="spacingAndGlyphs" >3 Oct 00:00</text>
<text x="324.4" y="847" fill="#000" stroke="#000" stroke-width="0.1" font-size="10" text-anchor="start" textLength="48.8" lengthAdjust="spacingAndGlyphs" >3 Oct 18:55</text>
<text x="388.4" y="847" fill="#000" stroke="#000" stroke-width="0.1" font-size="10" text-anchor="start" textLength="48.8" lengthAdjust="spacingAndGlyphs" >4 Oct 10:55</text>
<text x="452.4" y="847" fill="#000" stroke="#000" stroke-width="0.1" font-size="10" text-anchor="start" textLength="48.8" lengthAdjust="spacingAndGlyphs" >5 Oct 00:00</text>
<text x="516.4" y="847" fill="#000" stroke="#000" stroke-width="0.1" font-size="10" text-anchor="start" textLength="48.8" lengthAdjust="spacingAndGlyphs" >5 Oct 18:55</text>
<text x="580.4" y="847" fill="#000" stroke="#000" stroke-width="0.1" font-size="10" text-anchor="start" textLength="48.8" lengthAdjust="spacingAndGlyphs" >6 Oct 10:55</text>
<text x="644.4" y="847" fill="#000" stroke="#000" stroke-width="0.1" font-size="10" text-anchor="start" textLength="48.8" lengthAdjust="spacingAndGlyphs" >7 Oct 00:00</text>
<text x="708.4" y="847" fill="#000" stroke="#000" stroke-width="0.1" font-size="10" text-anchor="start" textLength="48.8" lengthAdjust="spacingAndGlyphs" >7 Oct 18:55</text>
<text x="772.4" y="847" fill="#000" stroke="#000" stroke-width="0.1" font-size="10" text-anchor="start" textLength="54.0" lengthAdjust="spacingAndGlyphs" >10 Oct 10:55</text>
<text x="836.4" y="847" fill="#000" stroke="#000" stroke-width="0.1" font-size="10" text-anchor="start" textLength="53.3" lengthAdjust="spacingAndGlyphs" >11 Oct 00:00</text>
<text x="900.4" y="847" fill="#000" stroke="#000" stroke-width="0.1" font-size="10" text-anchor="start" textLength="53.3" lengthAdjust="spacingAndGlyphs" >11 Oct 18:55</text>
<text x="964.4" y="847" fill="#000" stroke="#000" stroke-width="0.1" font-size="10" text-anchor="start" textLength="54.0" lengthAdjust="spacingAndGlyphs" >12 Oct 10:55</text>
<text x="1028.4" y="847" fill="#000" stroke="#000" stroke-width="0.1" font-size="10" text-anchor="start" textLength="54.0" lengthAdjust="spacingAndGlyphs" >13 Oct 00:00</text>
<text x="1092.4" y="847" fill="#000" stroke="#000" stroke-width="0.1" font-size="10" text-anchor="start" textLength="54.0" lengthAdjust="spacingAndGlyphs" >13 Oct 18:55</text>
<text x="1156.4" y="847" fill="#000" stroke="#000" stroke-width="0.1" font-size="10" text-anchor="start" textLength="54.0" lengthAdjust="spacingAndGlyphs" >14 Oct 10:55</text>
<text x="1220.4" y="847" fill="#000" stroke="#000" stroke-width="0.1" font-size="10" text-anchor="start" textLength="54.0" lengthAdjust="spacingAndGlyphs" >17 Oct 00:00</text>
<text x="1284.4" y="847" fill="#000" stroke="#000" stroke-width="0.1" font-size="10" text-anchor="start" textLength="54.0" lengthAdjust="spacingAndGlyphs" >17 Oct 18:55</text>
<text x="1348.4" y="847" fill="#000" stroke="#000" stroke-width="0.1" font-size="10" text-anchor="start" textLength="54.0" lengthAdjust="spacingAndGlyphs" >18 Oct 10:55</text>
<defs>
<pattern id="chk" width="2" height="2" patternUnits="userSpaceOnUse"><rect width="2" height="2" fill="#f0f0f0"/><rect width="1" height="1" fill="#fff"/><rect x="1" y="1" width="1" height="1" fill="#fff"/></pattern>
<linearGradient id="gp" x1="0" y1="0" x2="0" y2="1"><stop offset="0" stop-color="#7dff7d"/><stop offset="1" stop-color="#00c800"/></linearGradient>
<linearGradient id="gy" x1="0" y1="0" x2="1" y2="1"><stop offset="0" stop-color="#ffe34a"/><stop offset="1" stop-color="#d59a0c"/></linearGradient>
<linearGradient id="gc" x1="0" y1="0" x2="0" y2="1"><stop offset="0" stop-color="#ffffff"/><stop offset="1" stop-color="#b8c6e0"/></linearGradient>
<linearGradient id="gr" x1="0" y1="0" x2="0" y2="1"><stop offset="0" stop-color="#e8553a"/><stop offset="1" stop-color="#d61f0a"/></linearGradient>
</defs>
<g shape-rendering="crispEdges">
<rect x="2" y="0" width="1" height="18" fill="#a0a0a0" />
<rect x="276" y="0" width="1" height="18" fill="#a0a0a0" />
<rect x="333" y="0" width="1" height="18" fill="#a0a0a0" />
<rect x="423" y="0" width="1" height="18" fill="#a0a0a0" />
<rect x="428" y="0" width="1" height="18" fill="#a0a0a0" />
<rect x="456" y="0" width="1" height="18" fill="#a0a0a0" />
<rect x="485" y="0" width="1" height="18" fill="#a0a0a0" />
<rect x="616" y="0" width="1" height="18" fill="#a0a0a0" />
<rect x="673" y="0" width="1" height="18" fill="#a0a0a0" />
<rect x="238" y="0" width="1" height="19" fill="#8a8a8a" />
<rect x="239" y="0" width="1" height="19" fill="#fbfbfb" />
<rect x="606" y="0" width="1" height="19" fill="#8a8a8a" />
<rect x="607" y="0" width="1" height="19" fill="#fbfbfb" />
<rect x="912" y="0" width="1" height="19" fill="#8a8a8a" />
<rect x="913" y="0" width="1" height="19" fill="#fbfbfb" />
<rect x="1062" y="0" width="1" height="18" fill="#a0a0a0" />
<rect x="1173" y="0" width="1" height="19" fill="#a0a0a0" />
<rect x="242" y="0" width="3" height="1" fill="#a8a8a8" />
<rect x="242" y="2" width="3" height="1" fill="#a8a8a8" />
<rect x="242" y="4" width="3" height="1" fill="#a8a8a8" />
<rect x="242" y="6" width="3" height="1" fill="#a8a8a8" />
<rect x="242" y="8" width="3" height="1" fill="#a8a8a8" />
<rect x="242" y="10" width="3" height="1" fill="#a8a8a8" />
<rect x="242" y="12" width="3" height="1" fill="#a8a8a8" />
<rect x="242" y="14" width="3" height="1" fill="#a8a8a8" />
<rect x="242" y="16" width="3" height="1" fill="#a8a8a8" />
<rect x="610" y="0" width="3" height="1" fill="#a8a8a8" />
<rect x="610" y="2" width="3" height="1" fill="#a8a8a8" />
<rect x="610" y="4" width="3" height="1" fill="#a8a8a8" />
<rect x="610" y="6" width="3" height="1" fill="#a8a8a8" />
<rect x="610" y="8" width="3" height="1" fill="#a8a8a8" />
<rect x="610" y="10" width="3" height="1" fill="#a8a8a8" />
<rect x="610" y="12" width="3" height="1" fill="#a8a8a8" />
<rect x="610" y="14" width="3" height="1" fill="#a8a8a8" />
<rect x="610" y="16" width="3" height="1" fill="#a8a8a8" />
<rect x="916" y="0" width="3" height="1" fill="#a8a8a8" />
<rect x="916" y="2" width="3" height="1" fill="#a8a8a8" />
<rect x="916" y="4" width="3" height="1" fill="#a8a8a8" />
<rect x="916" y="6" width="3" height="1" fill="#a8a8a8" />
<rect x="916" y="8" width="3" height="1" fill="#a8a8a8" />
<rect x="916" y="10" width="3" height="1" fill="#a8a8a8" />
<rect x="916" y="12" width="3" height="1" fill="#a8a8a8" />
<rect x="916" y="14" width="3" height="1" fill="#a8a8a8" />
<rect x="916" y="16" width="3" height="1" fill="#a8a8a8" />
<rect x="277" y="0" width="24" height="18" fill="url(#chk)" />
<rect x="301" y="0" width="1" height="19" fill="#fff" />
<rect x="277" y="18" width="25" height="1" fill="#fff" />
<rect x="429" y="0" width="24" height="18" fill="url(#chk)" />
<rect x="453" y="0" width="1" height="19" fill="#fff" />
<rect x="429" y="18" width="25" height="1" fill="#fff" />
<rect x="457" y="0" width="24" height="18" fill="url(#chk)" />
<rect x="481" y="0" width="1" height="19" fill="#fff" />
<rect x="457" y="18" width="25" height="1" fill="#fff" />
<rect x="617" y="0" width="24" height="18" fill="url(#chk)" />
<rect x="641" y="0" width="1" height="19" fill="#fff" />
<rect x="617" y="18" width="25" height="1" fill="#fff" />
<rect x="1063" y="0" width="24" height="18" fill="url(#chk)" />
<rect x="1087" y="0" width="1" height="19" fill="#fff" />
<rect x="1063" y="18" width="25" height="1" fill="#fff" />
</g>
<path d="M13.5 0.5H20.5L23.5 3.5V12.2Q23.5 13.2 22.5 13.2H13.5Q12.5 13.2 12.5 12.2V0.5Z" fill="#fff" stroke="#8c8c8c" stroke-width="1"/>
<path d="M20.5 0.5V3.5H23.5" fill="#e8e8e8" stroke="#8c8c8c" stroke-width="1"/>
<g shape-rendering="crispEdges">
<rect x="14" y="2" width="3" height="2" fill="#9a9a9a" />
<rect x="14" y="6" width="5" height="1" fill="#b0b0b0" />
<rect x="14" y="8" width="5" height="1" fill="#b0b0b0" />
<rect x="14" y="10" width="3" height="1" fill="#b0b0b0" />
</g>
<path d="M16.2 10.3H20.2V6.4H24.0V10.3H28.0V13.7H24.0V17.8H20.2V13.7H16.2Z" fill="url(#gp)" stroke="#0a8a0a" stroke-width="0.9"/>
<text x="31" y="10.8" font-size="12" fill="#000" stroke="#000" stroke-width="0.3" text-anchor="start" textLength="36" lengthAdjust="spacingAndGlyphs" style="font-family:'Liberation Sans','Noto Sans CJK SC',sans-serif">新订单</text>
<text x="182.8" y="10.8" font-size="12" fill="#000" stroke="#000" stroke-width="0.3" text-anchor="start" textLength="48" lengthAdjust="spacingAndGlyphs" style="font-family:'Liberation Sans','Noto Sans CJK SC',sans-serif">自动交易</text>
<path d="M85 1.2L94.6 8.2L94.8 10.4L86.6 16L79 10.2L83.4 5.6Z" fill="url(#gy)" stroke="#a86a12" stroke-width="1" stroke-linejoin="round"/>
<path d="M79.6 10.4L86.6 14.2L94.4 8.8" fill="none" stroke="#b47a16" stroke-width="0.9"/>
<path d="M85.6 3.2L91.6 7.6L86.4 11.4L82 8Z" fill="#fff27a" opacity="0.55"/>
<path d="M79.4 10.8L86.6 15.8L94.6 10.2" fill="none" stroke="#8e5608" stroke-width="1"/>
<path d="M109 0H120V9H109Z" fill="#1594f5"/><path d="M109 0L112.5 2.2V9H109Z" fill="#0a78e0"/><rect x="113.5" y="4" width="5" height="1.6" fill="#cfe9ff"/><path d="M109.5 0.3L112.5 2.2H120" stroke="#bfe2ff" stroke-width="0.7" fill="none"/>
<path d="M109.5 15.3Q107.2 15 107.4 12.8Q107.6 10.9 109.8 10.9Q110.6 8.3 113.6 8.4Q116 8.4 116.9 10.3Q118.3 9.3 119.8 10.2Q120.9 10.9 120.6 12.1Q122.9 12.3 122.7 14Q122.5 15.3 120.8 15.3Z" fill="url(#gc)" stroke="#4a68a6" stroke-width="0.9"/>
<path d="M143.2 7.8L143.6 15.8A8 8 0 0 0 147.8 1.4Z" fill="#7cc87c" opacity="0.38"/>
<path d="M140.50 14.94A7.6 7.6 0 1 1 146.90 1.22" fill="none" stroke="#4a78d8" stroke-width="1.1" opacity="0.75"/>
<path d="M146.90 1.22A7.6 7.6 0 0 1 144.42 15.28" fill="none" stroke="#58a878" stroke-width="1.1" opacity="0.6"/>
<path d="M141.16 11.97A4.6 4.6 0 0 1 145.04 3.63" fill="none" stroke="#4a78d8" stroke-width="1.1" opacity="0.6"/>
<path d="M145.04 3.63A4.6 4.6 0 0 1 144.29 12.24" fill="none" stroke="#6ab088" stroke-width="1.1" opacity="0.5"/>
<circle cx="143.1" cy="7.6" r="1.6" fill="#2454d6"/>
<path d="M143.3 8L143.6 15.6" stroke="#1c9c2c" stroke-width="1.1"/>
<path d="M162 6.8H178.5L170.5 16Z" fill="#f7d43c" stroke="#c8a018" stroke-width="0.7"/>
<ellipse cx="170" cy="4.6" rx="8" ry="2.9" fill="#4aa8dc" stroke="#2a82b8" stroke-width="0.7"/>
<path d="M167.2 3.6Q167.6 -1 170 -1Q172.4 -1 172.8 3.6Z" fill="#58b4e4" stroke="#2a82b8" stroke-width="0.5"/>
<circle cx="174.4" cy="11.6" r="4.2" fill="url(#gr)" stroke="#b81c08" stroke-width="0.5"/>
<rect x="172.9" y="10.1" width="3" height="3" fill="#fff"/>
<g shape-rendering="crispEdges">
<rect x="256" y="2" width="1" height="14" fill="#555" />
<rect x="254" y="13" width="14" height="1" fill="#555" />
<rect x="255" y="3" width="3" height="1" fill="#555" />
<rect x="266" y="12" width="1" height="3" fill="#555" />
</g>
<path d="M254.5 4.5L256.5 2L258.5 4.5" fill="none" stroke="#555" stroke-width="0.7" opacity="0.35"/>
<path d="M265.5 11.5L268 13.5L265.5 15.5" fill="none" stroke="#555" stroke-width="0.7" opacity="0.35"/>
<g shape-rendering="crispEdges">
<rect x="262" y="3" width="1" height="9" fill="#0c8c0c" />
<rect x="263" y="4" width="2" height="1" fill="#0c8c0c" />
<rect x="260" y="10" width="2" height="1" fill="#0c8c0c" />
</g>
<g shape-rendering="crispEdges">
<rect x="284" y="2" width="1" height="14" fill="#555" />
<rect x="282" y="13" width="14" height="1" fill="#555" />
<rect x="283" y="3" width="3" height="1" fill="#555" />
<rect x="294" y="12" width="1" height="3" fill="#555" />
</g>
<path d="M282.5 4.5L284.5 2L286.5 4.5" fill="none" stroke="#555" stroke-width="0.7" opacity="0.35"/>
<path d="M293.5 11.5L296 13.5L293.5 15.5" fill="none" stroke="#555" stroke-width="0.7" opacity="0.35"/>
<g shape-rendering="crispEdges">
<rect x="290" y="0" width="1" height="12" fill="#0c8c0c" />
<rect x="288" y="2" width="5" height="8" fill="#0c8c0c" />
<rect x="289" y="3" width="3" height="6" fill="#5fea5f" />
</g>
<g shape-rendering="crispEdges">
<rect x="312" y="2" width="1" height="14" fill="#555" />
<rect x="310" y="13" width="14" height="1" fill="#555" />
<rect x="311" y="3" width="3" height="1" fill="#555" />
<rect x="322" y="12" width="1" height="3" fill="#555" />
</g>
<path d="M310.5 4.5L312.5 2L314.5 4.5" fill="none" stroke="#555" stroke-width="0.7" opacity="0.35"/>
<path d="M321.5 11.5L324 13.5L321.5 15.5" fill="none" stroke="#555" stroke-width="0.7" opacity="0.35"/>
<path d="M311 10.6Q313.2 9.4 314.6 7.2Q316.4 4.6 317.8 5.4Q319.6 6.4 320.6 7.8Q321.6 8.8 322.8 8.8" fill="none" stroke="#22a022" stroke-width="1.1"/>
<path d="M351.9 9.6L357.29999999999995 14.6" stroke="#a87810" stroke-width="3.6" stroke-linecap="butt"/>
<path d="M352.29999999999995 10L356.9 14.2" stroke="#f0d030" stroke-width="2"/>
<circle cx="347.9" cy="6.1" r="5.4" fill="#d9effc" stroke="#2f74c8" stroke-width="1.4"/>
<rect x="344.7" y="5.3" width="6.4" height="1.7" fill="#3e86b4"/>
<rect x="347.04999999999995" y="2.9" width="1.7" height="6.4" fill="#3e86b4"/>
<path d="M379.9 9.6L385.29999999999995 14.6" stroke="#a87810" stroke-width="3.6" stroke-linecap="butt"/>
<path d="M380.29999999999995 10L384.9 14.2" stroke="#f0d030" stroke-width="2"/>
<circle cx="375.9" cy="6.1" r="5.4" fill="#d9effc" stroke="#2f74c8" stroke-width="1.4"/>
<rect x="372.7" y="5.3" width="6.4" height="1.7" fill="#3e86b4"/>
<rect x="398" y="0" width="7.7" height="7.6" fill="#3ea314"/>
<rect x="399.2" y="3.2" width="5.4" height="3.6" fill="#fff"/>
<rect x="399" y="1.2" width="1" height="1" fill="#e8f4e0"/>
<rect x="400.2" y="4.2" width="3.4" height="0.9" fill="#3ea314" opacity="0.4"/>
<rect x="400.4" y="6.2" width="3" height="0.7" fill="#3ea314" opacity="0.9"/>
<rect x="406.1" y="0" width="7.7" height="7.6" fill="#1c4fd0"/>
<rect x="407.3" y="3.2" width="5.4" height="3.6" fill="#fff"/>
<rect x="407.1" y="1.2" width="1" height="1" fill="#e8f4e0"/>
<rect x="408.3" y="4.2" width="3.4" height="0.9" fill="#1c4fd0" opacity="0.4"/>
<rect x="408.5" y="6.2" width="3" height="0.7" fill="#1c4fd0" opacity="0.9"/>
<rect x="398" y="8.2" width="7.7" height="7.6" fill="#1c4fd0"/>
<rect x="399.2" y="11.399999999999999" width="5.4" height="3.6" fill="#fff"/>
<rect x="399" y="9.399999999999999" width="1" height="1" fill="#e8f4e0"/>
<rect x="400.2" y="12.399999999999999" width="3.4" height="0.9" fill="#1c4fd0" opacity="0.4"/>
<rect x="400.4" y="14.399999999999999" width="3" height="0.7" fill="#1c4fd0" opacity="0.9"/>
<rect x="406.1" y="8.2" width="7.7" height="7.6" fill="#3ea314"/>
<rect x="407.3" y="11.399999999999999" width="5.4" height="3.6" fill="#fff"/>
<rect x="407.1" y="9.399999999999999" width="1" height="1" fill="#e8f4e0"/>
<rect x="408.3" y="12.399999999999999" width="3.4" height="0.9" fill="#3ea314" opacity="0.4"/>
<rect x="408.5" y="14.399999999999999" width="3" height="0.7" fill="#3ea314" opacity="0.9"/>
<g shape-rendering="crispEdges">
<rect x="436" y="2" width="1" height="14" fill="#555" />
<rect x="434" y="13" width="14" height="1" fill="#555" />
<rect x="435" y="3" width="3" height="1" fill="#555" />
<rect x="446" y="12" width="1" height="3" fill="#555" />
</g>
<path d="M434.5 4.5L436.5 2L438.5 4.5" fill="none" stroke="#555" stroke-width="0.7" opacity="0.35"/>
<path d="M445.5 11.5L448 13.5L445.5 15.5" fill="none" stroke="#555" stroke-width="0.7" opacity="0.35"/>
<path d="M441.3 4.2L445.2 7.6L441.3 11Z" fill="#6fe06f" stroke="#129412" stroke-width="1" stroke-linejoin="round"/>
<g shape-rendering="crispEdges">
<rect x="464" y="2" width="1" height="14" fill="#555" />
<rect x="462" y="13" width="14" height="1" fill="#555" />
<rect x="463" y="3" width="3" height="1" fill="#555" />
<rect x="474" y="12" width="1" height="3" fill="#555" />
</g>
<path d="M462.5 4.5L464.5 2L466.5 4.5" fill="none" stroke="#555" stroke-width="0.7" opacity="0.35"/>
<path d="M473.5 11.5L476 13.5L473.5 15.5" fill="none" stroke="#555" stroke-width="0.7" opacity="0.35"/>
<g shape-rendering="crispEdges">
<rect x="470" y="2" width="1" height="10" fill="#1c6ea4" />
</g>
<path d="M471.6 7.5H476.2M471.6 7.5L474.4 5M471.6 7.5L474.4 10" stroke="#b83a08" stroke-width="1.2" fill="none"/><path d="M472 7.5L474.2 6.2V8.8Z" fill="#ff7a10"/>
<path d="M496.5 0.5H503.5L506.5 3.5V12.2Q506.5 13.2 505.5 13.2H496.5Q495.5 13.2 495.5 12.2V0.5Z" fill="#fff" stroke="#8c8c8c" stroke-width="1"/>
<path d="M503.5 0.5V3.5H506.5" fill="#e8e8e8" stroke="#8c8c8c" stroke-width="1"/>
<path d="M500.6 2.6Q498.8 2.2 498.6 4.2L498 10.6M497 5.8H500.4" fill="none" stroke="#4a4030" stroke-width="0.9"/>
<path d="M499.2 10.3H503.2V6.4H507.0V10.3H511.0V13.7H507.0V17.8H503.2V13.7H499.2Z" fill="url(#gp)" stroke="#0a8a0a" stroke-width="0.9"/>
<g shape-rendering="crispEdges">
<rect x="517" y="7" width="5" height="1" fill="#000" />
<rect x="518" y="8" width="3" height="1" fill="#000" />
<rect x="519" y="9" width="1" height="1" fill="#000" />
</g>
<g shape-rendering="crispEdges">
<rect x="556" y="7" width="5" height="1" fill="#000" />
<rect x="557" y="8" width="3" height="1" fill="#000" />
<rect x="558" y="9" width="1" height="1" fill="#000" />
</g>
<g shape-rendering="crispEdges">
<rect x="595" y="7" width="5" height="1" fill="#000" />
<rect x="596" y="8" width="3" height="1" fill="#000" />
<rect x="597" y="9" width="1" height="1" fill="#000" />
</g>
<g shape-rendering="crispEdges">
<rect x="901" y="7" width="5" height="1" fill="#000" />
<rect x="902" y="8" width="3" height="1" fill="#000" />
<rect x="903" y="9" width="1" height="1" fill="#000" />
</g>
<circle cx="541" cy="7.7" r="6.6" fill="#f4f8fc" stroke="#1666cc" stroke-width="2.7"/>
<circle cx="541" cy="7.7" r="7.9" fill="none" stroke="#0c4ea8" stroke-width="0.5"/>
<path d="M540.6 4.4V7.6H543.4" fill="none" stroke="#222" stroke-width="1.1"/>
<circle cx="541" cy="7.7" r="4.7" fill="none" stroke="#9aa" stroke-width="0.7" stroke-dasharray="0.6 1.86"/>
<rect x="572.5" y="1.5" width="15" height="13.2" rx="0.8" fill="#fff" stroke="#2f72c0" stroke-width="1.1"/>
<rect x="573" y="2" width="14" height="2" fill="#4c94e0"/><rect x="573" y="9" width="14" height="1" fill="#2f72c0"/>
<path d="M574.4 7.4H576.4L577.4 6.4H578.6L579.6 5.4H580.6L581.6 6.4H583.4L584.4 5.6H585.8" fill="none" stroke="#a02808" stroke-width="1"/>
<path d="M575.2 12.4H576.8L577.6 11.6H578.6L579.6 12.4H580.8L582.6 10.4H583.6L585.4 12.6" fill="none" stroke="#0c8c1c" stroke-width="1"/>
<path d="M624.1 0.9V12.2L626.6 9.9L628.9 15L630.6 14.2L628.4 9.2L632.2 8.9Z" fill="#505050"/>
<g shape-rendering="crispEdges">
<rect x="656" y="1" width="1" height="6" fill="#454545" />
<rect x="656" y="10" width="1" height="6" fill="#454545" />
<rect x="649" y="8" width="6" height="1" fill="#454545" />
<rect x="658" y="8" width="6" height="1" fill="#454545" />
<rect x="656" y="8" width="1" height="1" fill="#8a8a70" />
</g>
<g shape-rendering="crispEdges">
<rect x="689" y="1" width="3" height="15" fill="#fafafa" />
<rect x="690" y="2" width="1" height="13" fill="#505050" />
<rect x="712" y="7" width="14" height="3" fill="#fafafa" />
<rect x="713" y="8" width="12" height="1" fill="#505050" />
</g>
<path d="M740.7 14.8L752.9 2.8" stroke="#505050" stroke-width="1.1"/>
<path d="M766.6 9.6L774.6 2.2M768.4 14.4L780.6 4.2M772.4 15L781 7" stroke="#505050" stroke-width="0.9" fill="none"/>
<path d="M769.4 13.6L770.8 8.2L772.6 11.6L774.4 6.2L776.2 9.6L778.4 4.8L779 0L780 5.6" stroke="#404040" stroke-width="0.9" fill="none"/>
<text x="777.8" y="16.6" font-size="6.6" font-weight="bold" fill="#333">E</text>
<path d="M796 1.5H809.5" stroke="#505050" stroke-width="1" stroke-dasharray="1 1" shape-rendering="crispEdges"/>
<path d="M796 4.5H809.5" stroke="#505050" stroke-width="1" stroke-dasharray="1 1" shape-rendering="crispEdges"/>
<path d="M796 8.5H809.5" stroke="#505050" stroke-width="1" stroke-dasharray="1 1" shape-rendering="crispEdges"/>
<path d="M796 12.5H805.5" stroke="#505050" stroke-width="1" stroke-dasharray="1 1" shape-rendering="crispEdges"/>
<text x="805.8" y="16.6" font-size="6.6" font-weight="bold" fill="#333">F</text>
<text x="826.6" y="13" font-size="12.4" fill="#555" stroke="#555" stroke-width="0.35">A</text>
<rect x="853.5" y="2.5" width="11" height="12" fill="none" stroke="#505050" stroke-width="1" stroke-dasharray="1 1" shape-rendering="crispEdges"/>
<g shape-rendering="crispEdges">
<rect x="855" y="5" width="8" height="1" fill="#505050" />
<rect x="858" y="5" width="2" height="8" fill="#505050" />
<rect x="852" y="1" width="2" height="1" fill="#505050" />
</g>
<path d="M883.4 1.6L886.6 4.8H884.6V6.4H882.2V4.8H880.2Z" fill="#505050"/>
<path d="M890.6 15L887.4 11.8H889.4V10.2H891.8V11.8H893.8Z" fill="#505050"/>
<path d="M881.8 9.4L884.4 11.6L888.6 6.4" fill="none" stroke="#505050" stroke-width="1.2"/>
<text x="927.6" y="12" font-size="10" fill="#444" textLength="12.1" lengthAdjust="spacingAndGlyphs">M1</text>
<text x="955.5" y="12" font-size="10" fill="#444" textLength="12.7" lengthAdjust="spacingAndGlyphs">M5</text>
<text x="981.6" y="12" font-size="10" fill="#444" textLength="17.4" lengthAdjust="spacingAndGlyphs">M15</text>
<text x="1009.4" y="12" font-size="10" fill="#444" textLength="17.6" lengthAdjust="spacingAndGlyphs">M30</text>
<text x="1040.7" y="12" font-size="10" fill="#444" textLength="11.6" lengthAdjust="spacingAndGlyphs">H1</text>
<text x="1067.7" y="12" font-size="10" fill="#444" textLength="12.3" lengthAdjust="spacingAndGlyphs">H4</text>
<text x="1096.6" y="12" font-size="10" fill="#444" textLength="11.4" lengthAdjust="spacingAndGlyphs">D1</text>
<text x="1124" y="12" font-size="10" fill="#444" textLength="13.8" lengthAdjust="spacingAndGlyphs">W1</text>
<text x="1150.6" y="12" font-size="10" fill="#444" textLength="14.7" lengthAdjust="spacingAndGlyphs">MN</text>
<circle cx="1643.6" cy="5.4" r="3.9" fill="#f4f6ff" stroke="#2458c8" stroke-width="1.1"/>
<path d="M1640.6 8.6L1635.6 13.4" stroke="#2458c8" stroke-width="2.4" stroke-dasharray="1.2 0.4"/>
<path d="M1660.2 9.6Q1660.2 5.6 1665.6 5.6Q1671 5.6 1671 9.6Q1671 13.6 1665.6 13.6L1663.2 16.4L1663.4 13.4Q1660.2 12.8 1660.2 9.6Z" fill="#e4e6f0" stroke="#a0a0a8" stroke-width="0.8"/>
<circle cx="1674.6" cy="5.8" r="8.1" fill="url(#gr)"/>
<text x="1670.3" y="10.3" font-size="13.4" font-weight="bold" fill="#fff" style="font-family:'Liberation Serif',serif">1</text>
</svg>
</body></html>
